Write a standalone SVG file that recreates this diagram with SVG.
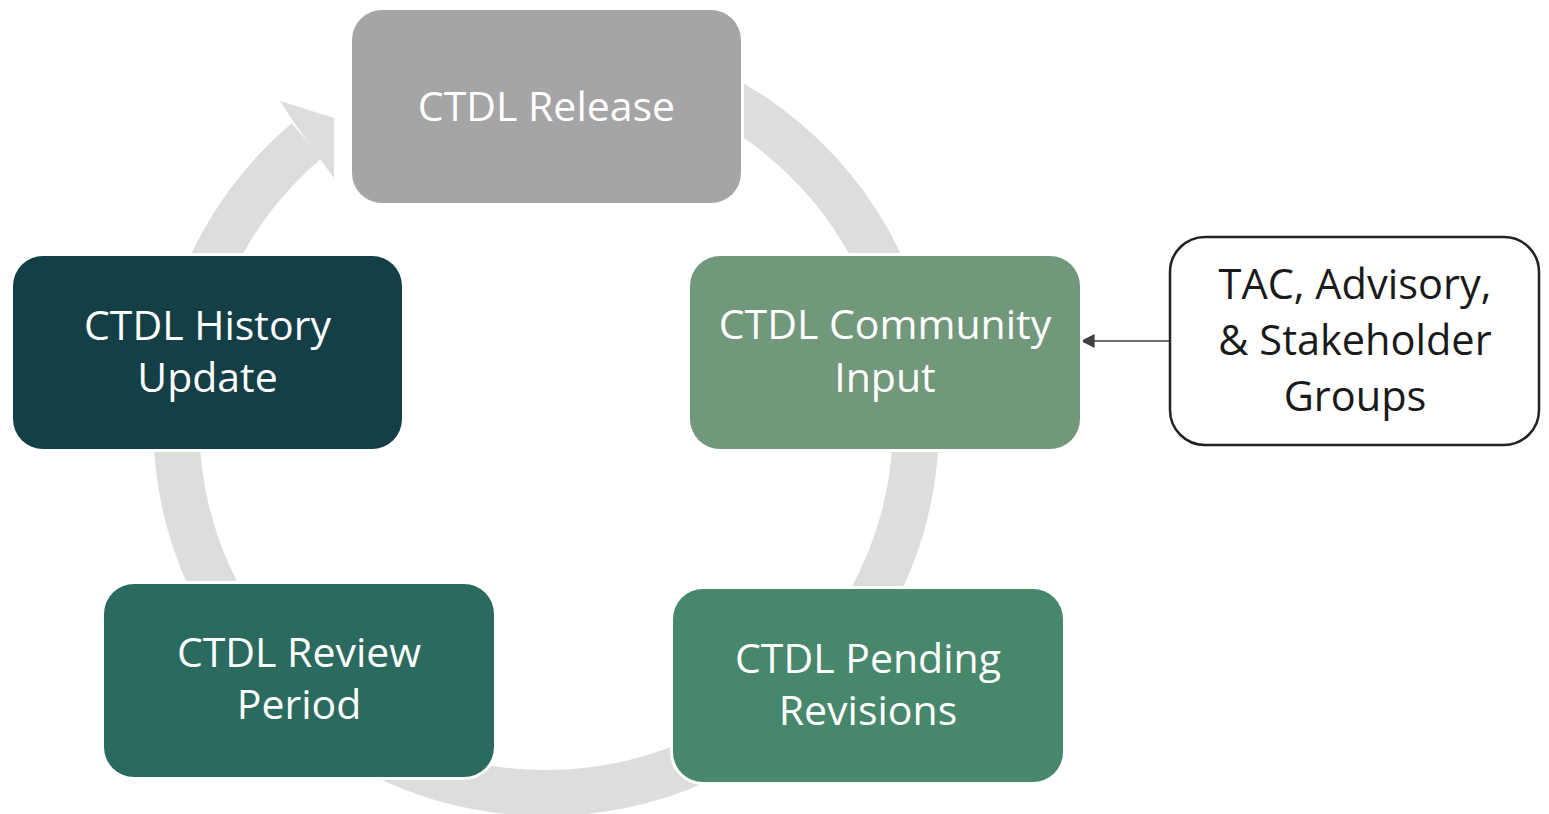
<svg xmlns="http://www.w3.org/2000/svg" width="1549" height="814" viewBox="0 0 1549 814">
  <defs>
    <style>
      .box { stroke: #ffffff; stroke-width: 6; paint-order: stroke; }
      .lbl { font-family: "Open Sans", "Noto Sans", "Liberation Sans", sans-serif; font-size: 41px; fill: #ffffff; text-anchor: middle; }
      .lbl-dark { font-family: "Open Sans", "Noto Sans", "Liberation Sans", sans-serif; font-size: 41.5px; fill: #1a1a1a; text-anchor: middle; }
      .ring { fill: none; stroke: #dcdedb; stroke-width: 46; }
    </style>
    <marker id="arrow" viewBox="0 0 10 10" refX="9" refY="5" markerWidth="16" markerHeight="14" markerUnits="userSpaceOnUse" orient="auto">
      <path d="M0,0 L10,5 L0,10 z" fill="#404040"/>
    </marker>
  </defs>
  <rect width="1549" height="814" fill="#ffffff"/>

  <g id="connectors">
    <path class="ring" d="M419.46,75.3 A370,370 0 1 1 306.7,140.8"/>
    <polygon points="293,121 280,101 334,118 334,178 320,159" fill="#dcdedb"/>
    <line x1="1169" y1="341" x2="1082" y2="341" stroke="#404040" stroke-width="1.5" marker-end="url(#arrow)"/>
  </g>

  <g id="node-release">
    <rect class="box" x="352" y="10" width="389" height="193" rx="30" fill="#a5a5a5"/>
    <text class="lbl" x="546.5" y="121">CTDL Release</text>
  </g>

  <g id="node-community">
    <rect class="box" x="690" y="256" width="390" height="193" rx="30" fill="#72987b"/>
    <text class="lbl" x="885" y="339">CTDL Community</text>
    <text class="lbl" x="885" y="392">Input</text>
  </g>

  <g id="node-pending">
    <rect class="box" x="673" y="589" width="390" height="193" rx="30" fill="#47876c"/>
    <text class="lbl" x="868" y="673">CTDL Pending</text>
    <text class="lbl" x="868" y="725">Revisions</text>
  </g>

  <g id="node-review">
    <rect class="box" x="104" y="584" width="390" height="193" rx="30" fill="#2b6a5e"/>
    <text class="lbl" x="299" y="667">CTDL Review</text>
    <text class="lbl" x="299" y="719">Period</text>
  </g>

  <g id="node-history">
    <rect class="box" x="13" y="256" width="389" height="193" rx="30" fill="#143f47"/>
    <text class="lbl" x="207.5" y="340">CTDL History</text>
    <text class="lbl" x="207.5" y="392">Update</text>
  </g>

  <g id="node-tac">
    <rect x="1170" y="237" width="369" height="208" rx="35" fill="#ffffff" stroke="#222222" stroke-width="2.5"/>
    <text class="lbl-dark" x="1355" y="299">TAC, Advisory,</text>
    <text class="lbl-dark" x="1355" y="355">&amp; Stakeholder</text>
    <text class="lbl-dark" x="1355" y="411">Groups</text>
  </g>
</svg>
